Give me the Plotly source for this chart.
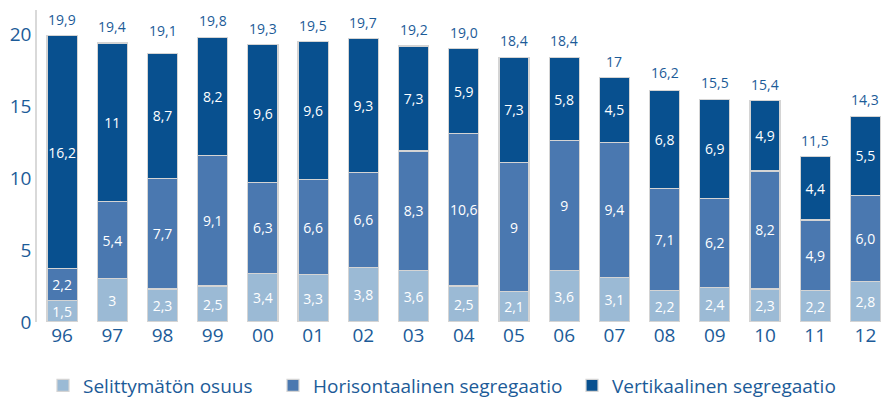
import plotly.graph_objects as go

# vuodet ja osuudet (palkkaerot, %-yksikköä)
years = ["96", "97", "98", "99", "00", "01", "02", "03", "04",
         "05", "06", "07", "08", "09", "10", "11", "12"]
selittymaton = [1.5, 3, 2.3, 2.5, 3.4, 3.3, 3.8, 3.6, 2.5,
                2.1, 3.6, 3.1, 2.2, 2.4, 2.3, 2.2, 2.8]
horisontaalinen = [2.2, 5.4, 7.7, 9.1, 6.3, 6.6, 6.6, 8.3, 10.6,
                   9, 9, 9.4, 7.1, 6.2, 8.2, 4.9, 6.0]
vertikaalinen = [16.2, 11, 8.7, 8.2, 9.6, 9.6, 9.3, 7.3, 5.9,
                 7.3, 5.8, 4.5, 6.8, 6.9, 4.9, 4.4, 5.5]
totals = [19.9, 19.4, 19.1, 19.8, 19.3, 19.5, 19.7, 19.2, 19.0,
          18.4, 18.4, 17, 16.2, 15.5, 15.4, 11.5, 14.3]


def fi(v):
    # suomalainen desimaalipilkku
    return str(v).replace(".", ",")


FONT = "Open Sans"
BLUE_TXT = "#1c5b98"

series = [
    ("Selittymätön osuus", selittymaton, "#9bbad5", "legend"),
    ("Horisontaalinen segregaatio", horisontaalinen, "#4a78b0", "legend2"),
    ("Vertikaalinen segregaatio", vertikaalinen, "#08508f", "legend3"),
]

fig = go.Figure()
for name, vals, col, leg in series:
    fig.add_trace(go.Bar(
        x=years, y=vals, name=name, legend=leg,
        marker=dict(color=col, line=dict(color="#d4d4d4", width=1.2)),
        width=0.6,
        text=[fi(v) for v in vals],
        textposition="inside",
        insidetextanchor="middle",
        constraintext="none",
        textangle=0,
        textfont=dict(family=FONT, size=14, color="white"),
        hoverinfo="skip",
    ))

# summat palkkien yläpuolelle (x indeksinä, koska "00" tms. tulkittaisiin numeroksi)
for i, tot in enumerate(totals):
    fig.add_annotation(x=i, y=tot, text=fi(tot), showarrow=False,
                       yanchor="bottom", yshift=5,
                       font=dict(family=FONT, size=14, color=BLUE_TXT))


def leg(xpx):
    # legendan sijainti: x pikseleinä plot-alueesta, y koko kuvasta
    return dict(orientation="h", x=(xpx - 37) / 846, xanchor="left",
                yref="container", y=0.036, yanchor="middle", itemwidth=30,
                font=dict(size=19, color=BLUE_TXT, family=FONT),
                bgcolor="rgba(0,0,0,0)")


fig.update_layout(
    width=883, height=400,
    barmode="stack",
    plot_bgcolor="white", paper_bgcolor="white",
    margin=dict(l=37, r=0, t=10, b=78),
    font=dict(family=FONT, color=BLUE_TXT),
    xaxis=dict(range=[-0.5, 16.35], showline=False, ticks="",
               tickfont=dict(size=19, color=BLUE_TXT, family=FONT),
               showgrid=False, fixedrange=True, automargin=False),
    yaxis=dict(range=[0, 21.7], showgrid=False, zeroline=False,
               showline=True, linecolor="#d9d9d9", linewidth=1.5,
               tickvals=[0, 5, 10, 15, 20], ticks="",
               tickfont=dict(size=19, color=BLUE_TXT, family=FONT),
               fixedrange=True, automargin=False),
    legend=leg(43),
    legend2=leg(273),
    legend3=leg(572),
    showlegend=True,
)

# sivun oletusmarginaali pois, jotta kuva alkaa vasemmasta yläkulmasta
fig.write_html("out.html", config={"displayModeBar": False},
               post_script="document.body.style.margin='0';")
